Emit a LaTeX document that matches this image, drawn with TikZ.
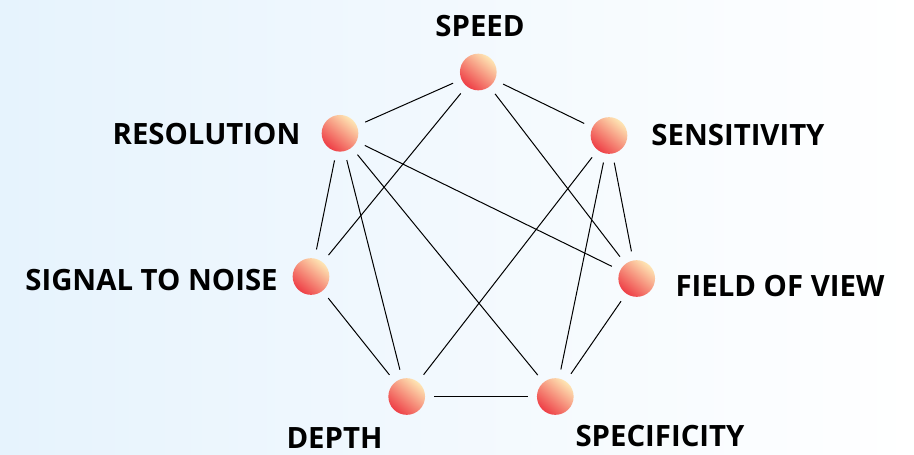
\documentclass[tikz,border=0pt]{standalone}
\usepackage{fontspec}
\setmainfont{Open Sans}
\definecolor{bgblue}{RGB}{230,243,253}
\definecolor{dotlight}{RGB}{254,230,180}
\definecolor{dotred}{RGB}{238,62,70}
\tikzset{
  dot/.style={circle,minimum size=27.5pt,inner sep=0pt,shading=axis,top color=dotlight,bottom color=dotred,shading angle=-40},
  lbl/.style={inner sep=0pt,font=\fontsize{22}{26}\selectfont\bfseries},
  link/.style={line width=0.75pt,shorten >=6.75pt,shorten <=6.75pt}
}
\begin{document}
\begin{tikzpicture}[x=0.75pt,y=0.75pt,yscale=-1,xscale=1]
        \useasboundingbox (0,0) rectangle (914,454);
        %Background
        \shade [left color=bgblue,right color=white] (0,0) rectangle (914,454);

        %Shape: Circles
        \node [dot] (speed) at (478.3,72) {};
        \node [dot] (sensitivity) at (609,135.5) {};
        \node [dot] (fov) at (636.7,278.5) {};
        \node [dot] (specificity) at (555.3,396.5) {};
        \node [dot] (depth) at (406.7,396.5) {};
        \node [dot] (snr) at (311,276.5) {};
        \node [dot] (resolution) at (340,133.3) {};

        %Straight Lines
        \draw [link] (speed) -- (resolution);
        \draw [link] (speed) -- (sensitivity);
        \draw [link] (speed) -- (snr);
        \draw [link] (speed) -- (fov);
        \draw [link] (resolution) -- (snr);
        \draw [link] (resolution) -- (depth);
        \draw [link] (resolution) -- (specificity);
        \draw [link] (resolution) -- (fov);
        \draw [link] (sensitivity) -- (depth);
        \draw [link] (sensitivity) -- (specificity);
        \draw [link] (sensitivity) -- (fov);
        \draw [link] (snr) -- (depth);
        \draw [link] (depth) -- (specificity);
        \draw [link] (specificity) -- (fov);

        % Text Node
        \node [lbl] (speedlbl) at (480,26) {SPEED};
        \node [lbl] (sensitivitylbl) at (738,135) {SENSITIVITY};
        \node [lbl] (fovlbl) at (780,286) {FIELD OF VIEW};
        \node [lbl] (specificitylbl) at (660,436) {SPECIFICITY};
        \node [lbl] (depthlbl) at (334.5,438) {DEPTH};
        \node [lbl] (snrlbl) at (151.5,280) {SIGNAL TO NOISE};
        \node [lbl] (resolutionlbl) at (206.5,134) {RESOLUTION};
\end{tikzpicture}
\end{document}
